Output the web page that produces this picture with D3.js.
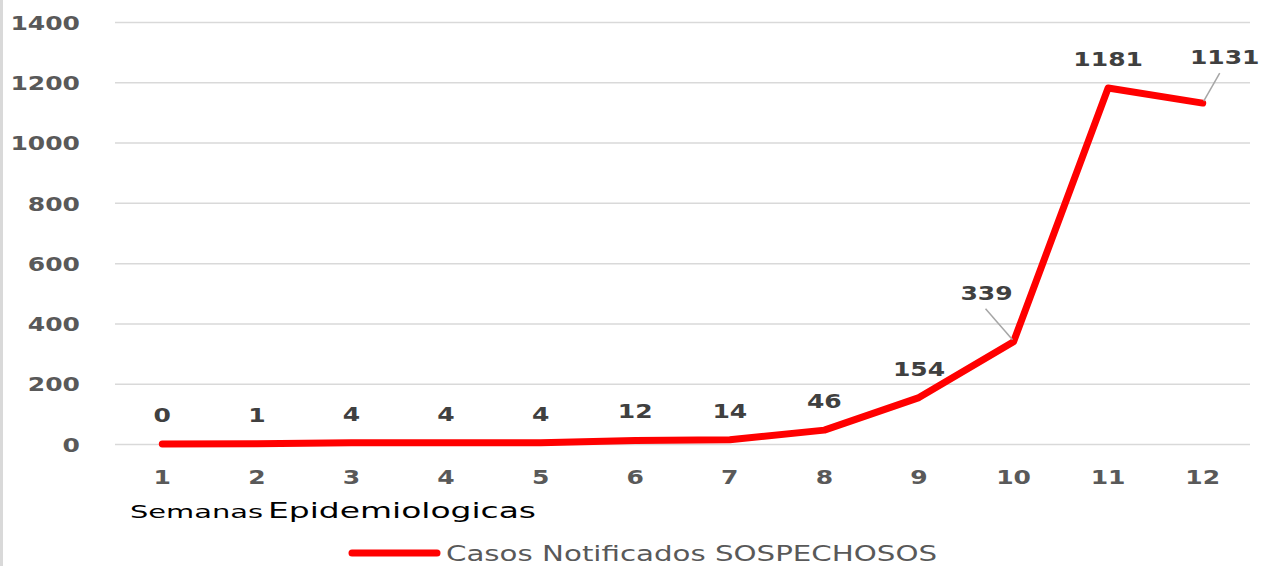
<!DOCTYPE html>
<html>
<head>
<meta charset="utf-8">
<script src="https://cdn.jsdelivr.net/npm/d3@7"></script>
<style>
  body { margin: 0; background: #fff; }
  svg { display: block; font-family: "DejaVu Sans", sans-serif; }
</style>
</head>
<body>
<div id="chart"></div>
<script>
var svgWidth = 1262;
var svgHeight = 566;

// data
var weeks = ["1", "2", "3", "4", "5", "6", "7", "8", "9", "10", "11", "12"];
var weekLabels = ["1", "2", "3", "4", "5", "6", "7", "8", "9", "10", "11", "12"];
var cases = [0, 1, 4, 4, 4, 12, 14, 46, 154, 339, 1181, 1131];
var yTicks = [0, 200, 400, 600, 800, 1000, 1200, 1400];
var seriesName = "Casos Notificados SOSPECHOSOS";

// a few labels are pushed aside with a leader line
var labelShift = { "10": [-27, -42], "12": [22, -39] };

var plot = { left: 115, right: 1250, top: 22, bottom: 444 };
var stretch = 1.25; // text in the picture is wider than normal

var svg = d3.select("#chart")
  .append("svg")
  .attr("width", svgWidth)
  .attr("height", svgHeight);

// gray strip on the left edge
svg.append("rect")
  .attr("x", 0).attr("y", 0)
  .attr("width", 3).attr("height", svgHeight)
  .attr("fill", "#d9d9d9");

var x = d3.scaleBand().domain(weeks).range([plot.left, plot.right]);
var y = d3.scaleLinear().domain([0, 1400]).range([plot.bottom, plot.top]);

// y axis + gridlines
var yAxis = svg.append("g")
  .attr("transform", `translate(${plot.left},0)`)
  .call(d3.axisLeft(y).tickValues(yTicks).tickSize(-(plot.right - plot.left)).tickFormat(d3.format("d")));
yAxis.select(".domain").remove();
yAxis.selectAll("line").attr("stroke", "#d9d9d9").attr("stroke-width", 1.5);
yAxis.selectAll("text")
  .attr("x", -35 / stretch)
  .attr("dy", "0.36em")
  .attr("transform", `scale(${stretch},1)`)
  .attr("fill", "#595959")
  .attr("font-size", 20)
  .attr("font-weight", "bold")
  .attr("font-family", "DejaVu Sans");

// x axis labels
var xAxis = svg.append("g")
  .attr("transform", `translate(0,${plot.bottom})`)
  .call(d3.axisBottom(x).tickSize(0).tickFormat((d, i) => weekLabels[i]));
xAxis.select(".domain").remove();
xAxis.selectAll(".tick").each(function() {
  var t = d3.select(this);
  var tx = +t.attr("transform").match(/translate\(([^,]+)/)[1];
  t.attr("transform", null);
  t.select("text")
    .attr("x", 0).attr("y", 0).attr("dy", null)
    .attr("transform", `translate(${tx},40) scale(${stretch},1)`);
});
xAxis.selectAll("text")
  .attr("fill", "#595959")
  .attr("font-size", 20)
  .attr("font-weight", "bold")
  .attr("font-family", "DejaVu Sans");

// the line
var line = d3.line()
  .x((d, i) => x(weeks[i]) + x.bandwidth() / 2)
  .y(d => y(d));

svg.append("path")
  .datum(cases)
  .attr("d", line)
  .attr("fill", "none")
  .attr("stroke", "#ff0000")
  .attr("stroke-width", 7)
  .attr("stroke-linejoin", "round")
  .attr("stroke-linecap", "round");

// data labels
var labels = svg.append("g");
cases.forEach(function(v, i) {
  var px = x(weeks[i]) + x.bandwidth() / 2;
  var py = y(v);
  var shift = labelShift[weeks[i]] || [0, -22];
  var lx = px + shift[0], ly = py + shift[1];
  if (labelShift[weeks[i]]) {
    labels.append("line")
      .attr("x1", lx + (shift[0] < 0 ? -1 : -5))
      .attr("y1", ly + 9)
      .attr("x2", px + (shift[0] < 0 ? -1 : 1))
      .attr("y2", py - 2)
      .attr("stroke", "#a6a6a6")
      .attr("stroke-width", 1.5);
  }
  labels.append("text")
    .attr("transform", `translate(${lx},${ly}) scale(${stretch},1)`)
    .attr("text-anchor", "middle")
    .attr("fill", "#404040")
    .attr("font-size", 20)
    .attr("font-weight", "bold")
    .text(v);
});

// x axis title
svg.append("text")
  .attr("x", 130).attr("y", 518)
  .attr("font-size", 18)
  .attr("fill", "#000")
  .attr("textLength", 133)
  .attr("lengthAdjust", "spacingAndGlyphs")
  .text("Semanas");
svg.append("text")
  .attr("x", 268).attr("y", 518)
  .attr("font-size", 21)
  .attr("fill", "#000")
  .attr("textLength", 268)
  .attr("lengthAdjust", "spacingAndGlyphs")
  .text("Epidemiologicas");

// legend
svg.append("line")
  .attr("x1", 352).attr("x2", 437)
  .attr("y1", 553).attr("y2", 553)
  .attr("stroke", "#ff0000")
  .attr("stroke-width", 7)
  .attr("stroke-linecap", "round");
svg.append("text")
  .attr("x", 446).attr("y", 561)
  .attr("font-size", 21)
  .attr("fill", "#595959")
  .attr("textLength", 491)
  .attr("lengthAdjust", "spacingAndGlyphs")
  .text(seriesName);
</script>
</body>
</html>
